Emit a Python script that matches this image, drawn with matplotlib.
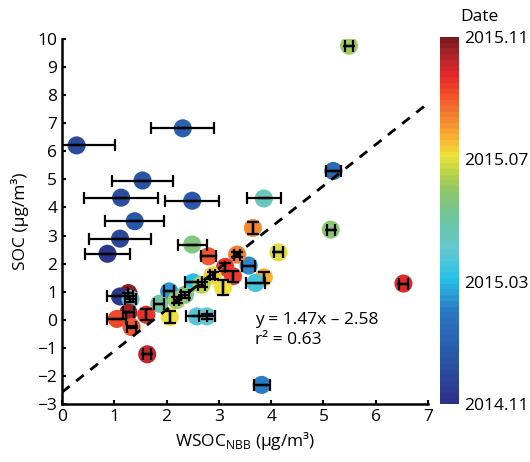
import matplotlib
matplotlib.use("Agg")
import matplotlib.pyplot as plt
import numpy as np
from matplotlib.colors import LinearSegmentedColormap

plt.rcParams['font.family'] = ['Open Sans', 'DejaVu Sans']
plt.rcParams['mathtext.fontset'] = 'custom'
plt.rcParams['mathtext.rm'] = 'Open Sans'

# data (month = months since 2014.11)
wsoc = [0.28, 2.31, 1.54, 1.13, 2.49, 1.39, 1.11, 0.87, 2.49, 5.49,
        5.19, 3.86, 3.65, 5.14, 4.14, 3.57, 3.86, 3.70, 6.53, 3.82,
        2.80, 3.35, 3.12, 3.27, 2.88, 3.08, 2.51, 2.67, 2.05, 2.35,
        2.19, 1.86, 2.06, 2.58, 2.77, 1.27, 1.11, 1.31, 1.27, 1.61,
        1.05, 1.33, 1.63]
soc = [6.21, 6.82, 4.96, 4.35, 4.24, 3.51, 2.89, 2.35, 2.68, 9.76,
       5.30, 4.32, 3.27, 3.21, 2.40, 1.93, 1.51, 1.31, 1.29, -2.32,
       2.26, 2.32, 1.88, 1.55, 1.58, 1.15, 1.33, 1.25, 1.01, 0.89,
       0.70, 0.57, 0.10, 0.12, 0.12, 0.95, 0.83, 0.74, 0.26, 0.18,
       0.03, -0.26, -1.23]
month = [1.0, 2.0, 1.4, 1.3, 1.6, 1.5, 0.8, 0.2, 6.7, 7.3,
         2.4, 5.6, 9.2, 6.8, 8.0, 3.3, 8.8, 4.6, 10.7, 3.0,
         10.0, 9.5, 10.6, 10.4, 8.4, 8.1, 4.0, 7.6, 3.5, 6.5,
         7.2, 5.9, 8.1, 4.8, 5.0, 11.8, 0.3, 4.8, 11.6, 10.6,
         10.2, 10.0, 11.2]
xerr = [0.73, 0.60, 0.59, 0.70, 0.52, 0.56, 0.59, 0.43, 0.28, 0.08,
        0.15, 0.33, 0.0, 0.08, 0.08, 0.12, 0.0, 0.18, 0.08, 0.15,
        0.14, 0.06, 0.0, 0.0, 0.04, 0.0, 0.16, 0.06, 0.10, 0.08,
        0.04, 0.10, 0.0, 0.20, 0.15, 0.0, 0.25, 0.10, 0.10, 0.0,
        0.18, 0.08, 0.08]
yerr = [0, 0, 0, 0, 0, 0, 0, 0, 0, 0,
        0, 0, 0.2, 0, 0, 0, 0.2, 0, 0, 0,
        0, 0.1, 0.15, 0.2, 0.12, 0.25, 0, 0.1, 0, 0.1,
        0.12, 0, 0.2, 0, 0.08, 0, 0, 0.1, 0, 0.2,
        0, 0.05, 0]

slope, intercept, r2 = 1.47, -2.58, 0.63

cb_ticks = [0, 4, 8, 12]
cb_labels = ['2014.11', '2015.03', '2015.07', '2015.11']

cmap = LinearSegmentedColormap.from_list('date', [
    (0.0, '#2e3188'), (0.12, '#2a56a8'), (0.25, '#2b78c2'),
    (0.34, '#27c0ea'), (0.42, '#66c8d0'), (0.50, '#6cc5a2'),
    (0.58, '#8ec66c'), (0.63, '#b6d24a'), (0.68, '#ece43a'),
    (0.72, '#f7b833'), (0.78, '#f4882f'), (0.85, '#ef4e2b'),
    (0.90, '#e6292a'), (0.96, '#a8242a'), (1.0, '#7a1a1f')], N=64)

fig = plt.figure(figsize=(5.3, 4.62), dpi=100)
ax = fig.add_axes([62/530, 1-404/462, 366/530, 365/462])

sc = ax.scatter(wsoc, soc, c=month, cmap=cmap, vmin=0, vmax=12,
                s=170, edgecolors='none', zorder=2)
ax.errorbar(wsoc, soc, xerr=xerr, yerr=yerr, fmt='none', ecolor='black',
            elinewidth=1.6, capsize=4.2, capthick=1.6, zorder=3)

xl = np.array([0, 7])
ax.plot(xl, slope*xl + intercept, color='black', lw=2,
        linestyle=(0, (3.5, 3)), zorder=4)

ax.text(3.7, 0.0, 'y = %.2fx \u2013 %.2f' % (slope, -intercept), fontsize=12.5,
        va='center', ha='left')
ax.text(3.7, -0.72, 'r\u00b2 = %.2f' % r2, fontsize=12.5, va='center', ha='left')

ax.set_xlim(0, 7)
ax.set_ylim(-3, 10)
ax.set_xticks(range(0, 8))
ax.set_yticks(range(-3, 11))
for s in ['top', 'right']:
    ax.spines[s].set_visible(False)
for s in ['left', 'bottom']:
    ax.spines[s].set_linewidth(1.8)
ax.tick_params(direction='in', length=3, width=1.5, labelsize=12.5)
ax.set_xlabel('WSOC$_{\\mathregular{NBB}}$ (\u03bcg/m\u00b3)', fontsize=12.5, labelpad=4)
ax.set_ylabel('SOC (\u03bcg/m\u00b3)', fontsize=12.5, labelpad=6)

cax = fig.add_axes([440/530, 1-404/462, 19/530, 367/462])
cb = fig.colorbar(sc, cax=cax, ticks=cb_ticks)
cb.ax.set_yticklabels(cb_labels)
cb.outline.set_visible(False)
cb.ax.tick_params(length=0, labelsize=12.5, pad=4)
fig.text(479/530, 1-17/462, 'Date', ha='center', va='center', fontsize=12.5)

fig.savefig('out.png', dpi=100)
